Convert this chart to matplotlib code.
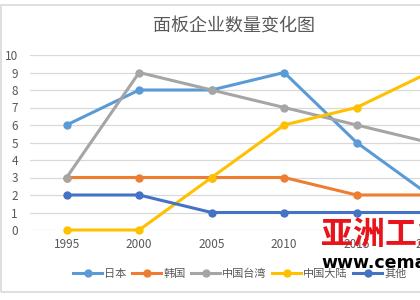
import matplotlib
matplotlib.use('Agg')
import matplotlib.pyplot as plt
from matplotlib.patches import Rectangle

plt.rcParams['font.family'] = ['Noto Sans CJK SC', 'DejaVu Sans']

years = ['1995', '2000', '2005', '2010', '2015', '2020']
japan = [6, 8, 8, 9, 5, 2]
korea = [3, 3, 3, 3, 2, 2]
taiwan = [3, 9, 8, 7, 6, 5]
mainland = [0, 0, 3, 6, 7, 9]
other = [2, 2, 1, 1, 1, 1]

series = [
    ('日本', japan, '#5B9BD5'),
    ('韩国', korea, '#ED7D31'),
    ('中国台湾', taiwan, '#A5A5A5'),
    ('中国大陆', mainland, '#FFC000'),
    ('其他', other, '#4472C4'),
]

fig = plt.figure(figsize=(4.2, 3.0), dpi=100)

# chart area border
fig.patches.append(Rectangle((1 / 420, 1 - 292 / 300), 1.2, 287 / 300,
                             transform=fig.transFigure, fill=False,
                             edgecolor='#D9D9D9', lw=1.2))

# plot area runs past the right edge (picture is cropped)
ax = fig.add_axes([30.4 / 420, 70 / 300, 435 / 420, 175 / 300])
x = list(range(len(years)))
for name, vals, col in series:
    ax.plot(x, vals, color=col, lw=2.2, marker='o', markersize=5,
            label=name, clip_on=False, zorder=3)

ax.set_xlim(-0.5, len(years) - 0.5)
ax.set_ylim(0, 10)
ax.set_yticks(range(0, 11))
ax.set_xticks(x)
ax.set_xticklabels(years)
ax.grid(axis='y', color='#D9D9D9', lw=0.9)
ax.set_axisbelow(True)
for s in ax.spines.values():
    s.set_visible(False)
ax.tick_params(length=0, labelsize=8.5, colors='#595959', pad=6)
ax.tick_params(axis='y', pad=9)

fig.text(234 / 420, 0.91, '面板企业数量变化图', ha='center', va='center',
         fontsize=13, color='#595959')

fig.legend(loc='center', bbox_to_anchor=(240 / 420, 1 - 274 / 300), ncol=5,
           frameon=False, fontsize=8, handlelength=2.6, handletextpad=0.2,
           columnspacing=0.5, labelcolor='#595959')

# watermark
fig.text(321 / 420, 1 - 235 / 300, '亚洲工业', color='#E8141B', fontsize=23,
         fontweight='bold', va='center', ha='left')
fig.text(321 / 420, 1 - 263 / 300, 'www.cema.com', color='black', fontsize=12.5,
         fontweight='bold', va='center', ha='left', family='DejaVu Sans')

fig.savefig('out.png', dpi=100)
